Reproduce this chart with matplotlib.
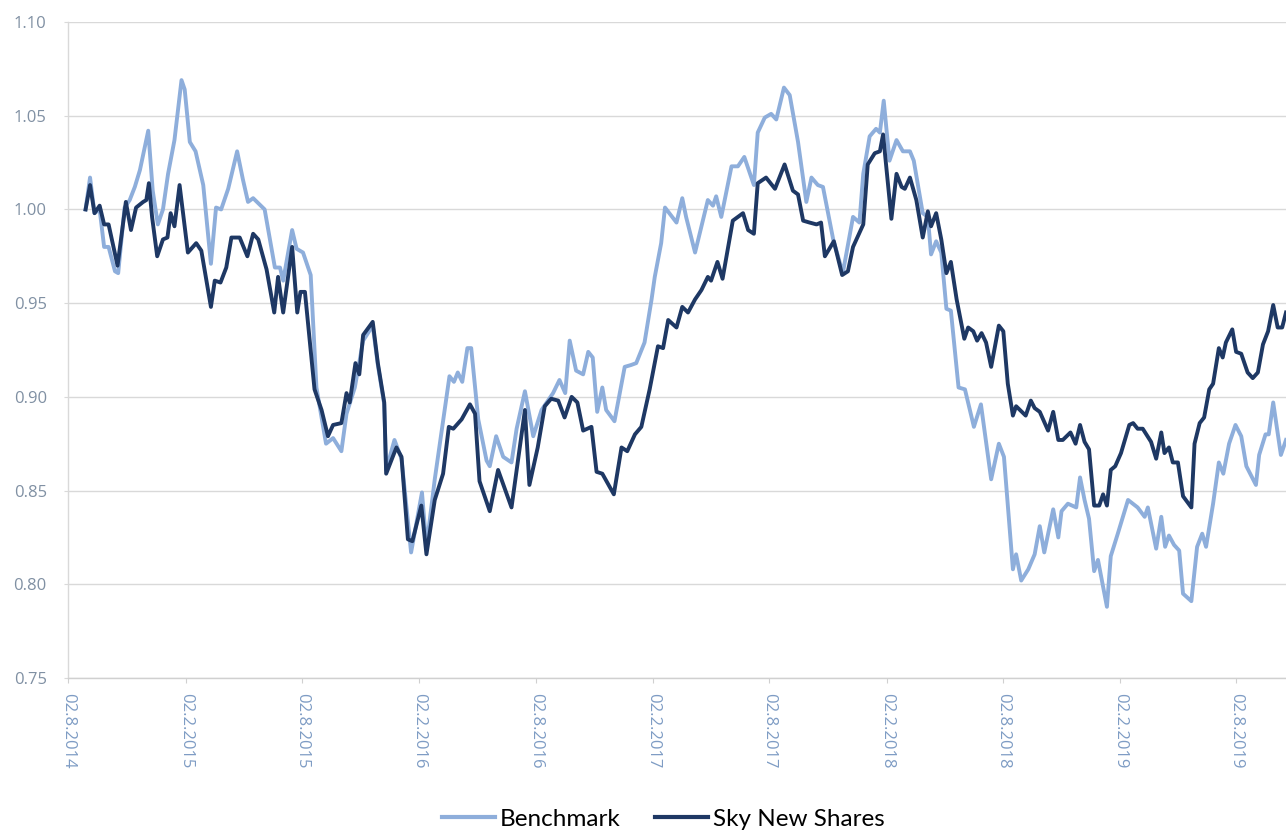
import matplotlib
matplotlib.use("Agg")
import matplotlib.pyplot as plt
import pandas as pd

# ---------------- data ----------------
sky_dates = [
    "2014-08-29", "2014-09-05", "2014-09-12", "2014-09-20", "2014-09-27", "2014-10-04", "2014-10-18",
    "2014-10-31", "2014-11-08", "2014-11-16", "2014-11-27", "2014-12-02", "2014-12-06", "2014-12-11",
    "2014-12-19", "2014-12-28", "2015-01-04", "2015-01-09", "2015-01-15", "2015-01-23", "2015-02-05",
    "2015-02-18", "2015-02-26", "2015-03-13", "2015-03-19", "2015-03-28", "2015-04-06", "2015-04-14",
    "2015-04-27", "2015-05-09", "2015-05-18", "2015-05-26", "2015-06-08", "2015-06-20", "2015-06-26",
    "2015-07-04", "2015-07-18", "2015-07-26", "2015-07-31", "2015-08-07", "2015-08-22", "2015-09-02",
    "2015-09-12", "2015-09-20", "2015-10-03", "2015-10-11", "2015-10-16", "2015-10-25", "2015-10-31",
    "2015-11-06", "2015-11-21", "2015-11-29", "2015-12-09", "2015-12-12", "2015-12-28", "2016-01-05",
    "2016-01-15", "2016-01-22", "2016-02-05", "2016-02-13", "2016-02-26", "2016-03-10", "2016-03-19",
    "2016-03-26", "2016-04-08", "2016-04-21", "2016-04-29", "2016-05-06", "2016-05-22", "2016-06-04",
    "2016-06-25", "2016-07-16", "2016-07-23", "2016-08-05", "2016-08-16", "2016-08-26", "2016-09-06",
    "2016-09-16", "2016-09-27", "2016-10-06", "2016-10-15", "2016-10-28", "2016-11-05", "2016-11-14",
    "2016-12-02", "2016-12-14", "2016-12-23", "2017-01-04", "2017-01-14", "2017-01-27", "2017-02-09",
    "2017-02-17", "2017-02-25", "2017-03-10", "2017-03-19", "2017-03-28", "2017-04-08", "2017-04-18",
    "2017-04-28", "2017-05-03", "2017-05-13", "2017-05-21", "2017-06-06", "2017-06-22", "2017-06-30",
    "2017-07-09", "2017-07-15", "2017-07-28", "2017-08-11", "2017-08-26", "2017-09-08", "2017-09-16",
    "2017-09-24", "2017-10-04", "2017-10-15", "2017-10-22", "2017-10-28", "2017-11-11", "2017-11-24",
    "2017-12-03", "2017-12-11", "2017-12-27", "2018-01-03", "2018-01-14", "2018-01-22", "2018-01-27",
    "2018-02-09", "2018-02-17", "2018-02-25", "2018-03-02", "2018-03-10", "2018-03-20", "2018-03-30",
    "2018-04-07", "2018-04-12", "2018-04-20", "2018-04-28", "2018-05-06", "2018-05-13", "2018-05-22",
    "2018-06-03", "2018-06-09", "2018-06-17", "2018-06-23", "2018-06-30", "2018-07-07", "2018-07-15",
    "2018-07-27", "2018-08-03", "2018-08-10", "2018-08-18", "2018-08-23", "2018-09-07", "2018-09-15",
    "2018-09-21", "2018-09-29", "2018-10-12", "2018-10-20", "2018-10-28", "2018-11-04", "2018-11-16",
    "2018-11-24", "2018-12-01", "2018-12-08", "2018-12-15", "2018-12-23", "2018-12-31", "2019-01-06",
    "2019-01-12", "2019-01-18", "2019-01-25", "2019-02-03", "2019-02-16", "2019-02-22", "2019-03-01",
    "2019-03-09", "2019-03-22", "2019-03-30", "2019-04-07", "2019-04-12", "2019-04-19", "2019-04-25",
    "2019-05-03", "2019-05-11", "2019-05-24", "2019-05-29", "2019-06-06", "2019-06-13", "2019-06-21",
    "2019-06-27", "2019-07-06", "2019-07-12", "2019-07-17", "2019-07-27", "2019-08-02", "2019-08-10",
    "2019-08-20", "2019-08-28", "2019-09-05", "2019-09-13", "2019-09-21", "2019-09-29", "2019-10-06",
    "2019-10-13", "2019-10-19",
]
sky_values = [
    1.000, 1.013, 0.998, 1.002, 0.992, 0.992, 0.970,
    1.004, 0.989, 1.001, 1.004, 1.005, 1.014, 0.996,
    0.975, 0.984, 0.985, 0.998, 0.991, 1.013, 0.977,
    0.982, 0.978, 0.948, 0.962, 0.961, 0.969, 0.985,
    0.985, 0.975, 0.987, 0.984, 0.968, 0.945, 0.964,
    0.945, 0.980, 0.945, 0.956, 0.956, 0.904, 0.893,
    0.879, 0.885, 0.886, 0.902, 0.897, 0.918, 0.912,
    0.933, 0.940, 0.918, 0.897, 0.859, 0.873, 0.868,
    0.824, 0.823, 0.842, 0.816, 0.845, 0.859, 0.884,
    0.883, 0.888, 0.896, 0.891, 0.855, 0.839, 0.861,
    0.841, 0.893, 0.853, 0.873, 0.895, 0.899, 0.898,
    0.889, 0.900, 0.897, 0.882, 0.884, 0.860, 0.859,
    0.848, 0.873, 0.871, 0.880, 0.884, 0.904, 0.927,
    0.926, 0.941, 0.937, 0.948, 0.945, 0.952, 0.957,
    0.964, 0.962, 0.972, 0.963, 0.994, 0.998, 0.989,
    0.987, 1.014, 1.017, 1.011, 1.024, 1.010, 1.008,
    0.994, 0.993, 0.992, 0.993, 0.975, 0.983, 0.965,
    0.967, 0.980, 0.992, 1.024, 1.030, 1.031, 1.040,
    0.995, 1.019, 1.012, 1.011, 1.017, 1.005, 0.985,
    0.999, 0.991, 0.998, 0.984, 0.966, 0.972, 0.952,
    0.931, 0.937, 0.935, 0.930, 0.934, 0.929, 0.916,
    0.938, 0.935, 0.907, 0.890, 0.895, 0.890, 0.898,
    0.894, 0.892, 0.882, 0.892, 0.877, 0.877, 0.881,
    0.875, 0.885, 0.876, 0.872, 0.842, 0.842, 0.848,
    0.842, 0.861, 0.863, 0.870, 0.885, 0.886, 0.883,
    0.883, 0.876, 0.867, 0.881, 0.870, 0.873, 0.865,
    0.865, 0.847, 0.841, 0.875, 0.886, 0.889, 0.904,
    0.907, 0.926, 0.921, 0.929, 0.936, 0.924, 0.923,
    0.913, 0.910, 0.913, 0.928, 0.935, 0.949, 0.937,
    0.937, 0.945,
]

bench_dates = [
    "2014-08-29", "2014-09-05", "2014-09-12", "2014-09-20", "2014-09-27", "2014-10-04", "2014-10-14",
    "2014-10-19", "2014-10-29", "2014-11-06", "2014-11-14", "2014-11-22", "2014-12-05", "2014-12-12",
    "2014-12-20", "2014-12-28", "2015-01-05", "2015-01-15", "2015-01-26", "2015-01-31", "2015-02-08",
    "2015-02-17", "2015-03-01", "2015-03-13", "2015-03-21", "2015-03-29", "2015-04-09", "2015-04-23",
    "2015-05-02", "2015-05-10", "2015-05-18", "2015-06-05", "2015-06-21", "2015-06-29", "2015-07-04",
    "2015-07-18", "2015-07-25", "2015-08-04", "2015-08-16", "2015-08-25", "2015-09-09", "2015-09-20",
    "2015-10-03", "2015-10-11", "2015-10-24", "2015-11-06", "2015-11-21", "2015-11-29", "2015-12-09",
    "2015-12-12", "2015-12-25", "2016-01-05", "2016-01-20", "2016-02-06", "2016-02-13", "2016-02-26",
    "2016-03-20", "2016-03-27", "2016-04-02", "2016-04-09", "2016-04-17", "2016-04-23", "2016-05-04",
    "2016-05-17", "2016-05-22", "2016-06-01", "2016-06-12", "2016-06-25", "2016-07-03", "2016-07-16",
    "2016-07-29", "2016-08-11", "2016-08-29", "2016-09-08", "2016-09-17", "2016-09-24", "2016-10-04",
    "2016-10-15", "2016-10-23", "2016-10-30", "2016-11-06", "2016-11-14", "2016-11-20", "2016-12-03",
    "2016-12-19", "2016-12-29", "2017-01-06", "2017-01-19", "2017-01-30", "2017-02-04", "2017-02-14",
    "2017-02-20", "2017-03-10", "2017-03-19", "2017-03-25", "2017-04-08", "2017-04-28", "2017-05-06",
    "2017-05-11", "2017-05-19", "2017-06-04", "2017-06-14", "2017-06-24", "2017-07-09", "2017-07-15",
    "2017-07-26", "2017-08-05", "2017-08-13", "2017-08-25", "2017-09-03", "2017-09-16", "2017-09-29",
    "2017-10-07", "2017-10-17", "2017-10-25", "2017-11-10", "2017-11-25", "2017-12-11", "2017-12-21",
    "2017-12-27", "2018-01-06", "2018-01-16", "2018-01-22", "2018-01-28", "2018-02-06", "2018-02-17",
    "2018-02-27", "2018-03-10", "2018-03-16", "2018-03-30", "2018-04-07", "2018-04-12", "2018-04-20",
    "2018-04-28", "2018-05-06", "2018-05-13", "2018-05-25", "2018-06-04", "2018-06-18", "2018-06-29",
    "2018-07-15", "2018-07-27", "2018-08-04", "2018-08-18", "2018-08-23", "2018-08-31", "2018-09-11",
    "2018-09-21", "2018-09-29", "2018-10-06", "2018-10-20", "2018-10-28", "2018-11-02", "2018-11-12",
    "2018-11-25", "2018-12-01", "2018-12-08", "2018-12-15", "2018-12-23", "2018-12-29", "2019-01-12",
    "2019-01-18", "2019-01-29", "2019-02-14", "2019-03-01", "2019-03-12", "2019-03-17", "2019-03-30",
    "2019-04-07", "2019-04-13", "2019-04-19", "2019-04-27", "2019-05-05", "2019-05-11", "2019-05-24",
    "2019-06-02", "2019-06-10", "2019-06-16", "2019-06-27", "2019-07-06", "2019-07-13", "2019-07-22",
    "2019-08-01", "2019-08-10", "2019-08-18", "2019-09-02", "2019-09-07", "2019-09-17", "2019-09-22",
    "2019-09-29", "2019-10-11", "2019-10-19",
]
bench_values = [
    1.000, 1.017, 0.998, 1.000, 0.980, 0.980, 0.967,
    0.966, 1.001, 1.005, 1.012, 1.021, 1.042, 1.010,
    0.992, 1.000, 1.019, 1.037, 1.069, 1.064, 1.036,
    1.031, 1.013, 0.971, 1.001, 1.000, 1.011, 1.031,
    1.016, 1.004, 1.006, 1.000, 0.969, 0.969, 0.962,
    0.989, 0.979, 0.977, 0.965, 0.905, 0.875, 0.878,
    0.871, 0.891, 0.905, 0.930, 0.938, 0.917, 0.896,
    0.861, 0.877, 0.867, 0.817, 0.849, 0.820, 0.856,
    0.911, 0.908, 0.913, 0.908, 0.926, 0.926, 0.888,
    0.866, 0.863, 0.879, 0.868, 0.865, 0.883, 0.903,
    0.879, 0.893, 0.902, 0.909, 0.902, 0.930, 0.914,
    0.912, 0.924, 0.921, 0.892, 0.905, 0.893, 0.887,
    0.916, 0.917, 0.918, 0.929, 0.952, 0.964, 0.982,
    1.001, 0.993, 1.006, 0.996, 0.977, 1.005, 1.002,
    1.007, 0.996, 1.023, 1.023, 1.028, 1.013, 1.041,
    1.049, 1.051, 1.048, 1.065, 1.061, 1.036, 1.004,
    1.017, 1.013, 1.012, 0.984, 0.966, 0.996, 0.993,
    1.019, 1.039, 1.043, 1.041, 1.058, 1.026, 1.037,
    1.031, 1.031, 1.026, 0.998, 0.996, 0.976, 0.983,
    0.977, 0.947, 0.946, 0.905, 0.904, 0.884, 0.896,
    0.856, 0.875, 0.868, 0.808, 0.816, 0.802, 0.808,
    0.816, 0.831, 0.817, 0.840, 0.825, 0.839, 0.843,
    0.841, 0.857, 0.845, 0.835, 0.807, 0.813, 0.788,
    0.815, 0.827, 0.845, 0.841, 0.836, 0.841, 0.819,
    0.836, 0.820, 0.826, 0.821, 0.818, 0.795, 0.791,
    0.820, 0.827, 0.820, 0.843, 0.865, 0.859, 0.875,
    0.885, 0.879, 0.863, 0.853, 0.869, 0.880, 0.880,
    0.897, 0.869, 0.877,
]

tick_dates = ["2014-08-02", "2015-02-02", "2015-08-02", "2016-02-02", "2016-08-02", "2017-02-02",
              "2017-08-02", "2018-02-02", "2018-08-02", "2019-02-02", "2019-08-02"]
tick_labels = ["02.8.2014", "02.2.2015", "02.8.2015", "02.2.2016", "02.8.2016", "02.2.2017",
               "02.8.2017", "02.2.2018", "02.8.2018", "02.2.2019", "02.8.2019"]
y_ticks = [0.75, 0.80, 0.85, 0.90, 0.95, 1.00, 1.05, 1.10]
x_start, x_end = "2014-08-02", "2019-10-19"

series_names = ["Benchmark", "Sky New Shares"]

# ---------------- figure ----------------
W, H = 1286, 832
fig = plt.figure(figsize=(W / 100, H / 100), dpi=100)
ax = fig.add_axes([68.3 / W, (H - 678) / H, 1 - 68.3 / W, (678 - 22) / H])

bench_col = "#8EAEDB"
sky_col = "#1E3864"

ax.plot(pd.to_datetime(bench_dates), bench_values, color=bench_col, lw=2.8,
        solid_joinstyle="round", label=series_names[0], zorder=3)
ax.plot(pd.to_datetime(sky_dates), sky_values, color=sky_col, lw=2.8,
        solid_joinstyle="round", label=series_names[1], zorder=4)

ax.set_xlim(pd.Timestamp(x_start), pd.Timestamp(x_end))
ax.set_ylim(y_ticks[0], y_ticks[-1])

ax.set_yticks(y_ticks)
ax.set_yticklabels([f"{v:.2f}" for v in y_ticks])
ax.set_xticks(pd.to_datetime(tick_dates))
ax.set_xticklabels(tick_labels, rotation=-90)

ax.grid(axis="y", color="#D9D9D9", lw=1.0)
ax.set_axisbelow(True)
for s in ["top", "right"]:
    ax.spines[s].set_visible(False)
ax.spines["left"].set_color("#D9D9D9")
ax.spines["bottom"].set_color("#D0D0D0")
ax.spines["left"].set_linewidth(1.0)
ax.spines["bottom"].set_linewidth(1.0)

ax.tick_params(axis="x", direction="out", length=3.6, color="#D0D0D0", pad=7,
               labelsize=12, labelcolor="#7E9CC4")
ax.tick_params(axis="y", direction="out", length=3, color="#D9D9D9", pad=12.5,
               labelsize=12, labelcolor="#8090A3")
for lab in ax.get_xticklabels() + ax.get_yticklabels():
    lab.set_fontfamily(["Open Sans", "DejaVu Sans"])
for lab in ax.get_xticklabels():
    lab.set_verticalalignment("top")

leg = fig.legend(loc="center", bbox_to_anchor=(663.5 / W, 1 - 819 / H), ncol=2, frameon=False,
                 handlelength=2.2, handletextpad=0.2, columnspacing=1.4,
                 prop={"family": ["Lato", "DejaVu Sans"], "size": 17.5})
for line in leg.get_lines():
    line.set_linewidth(3.0)

fig.savefig("out.png", dpi=100)
